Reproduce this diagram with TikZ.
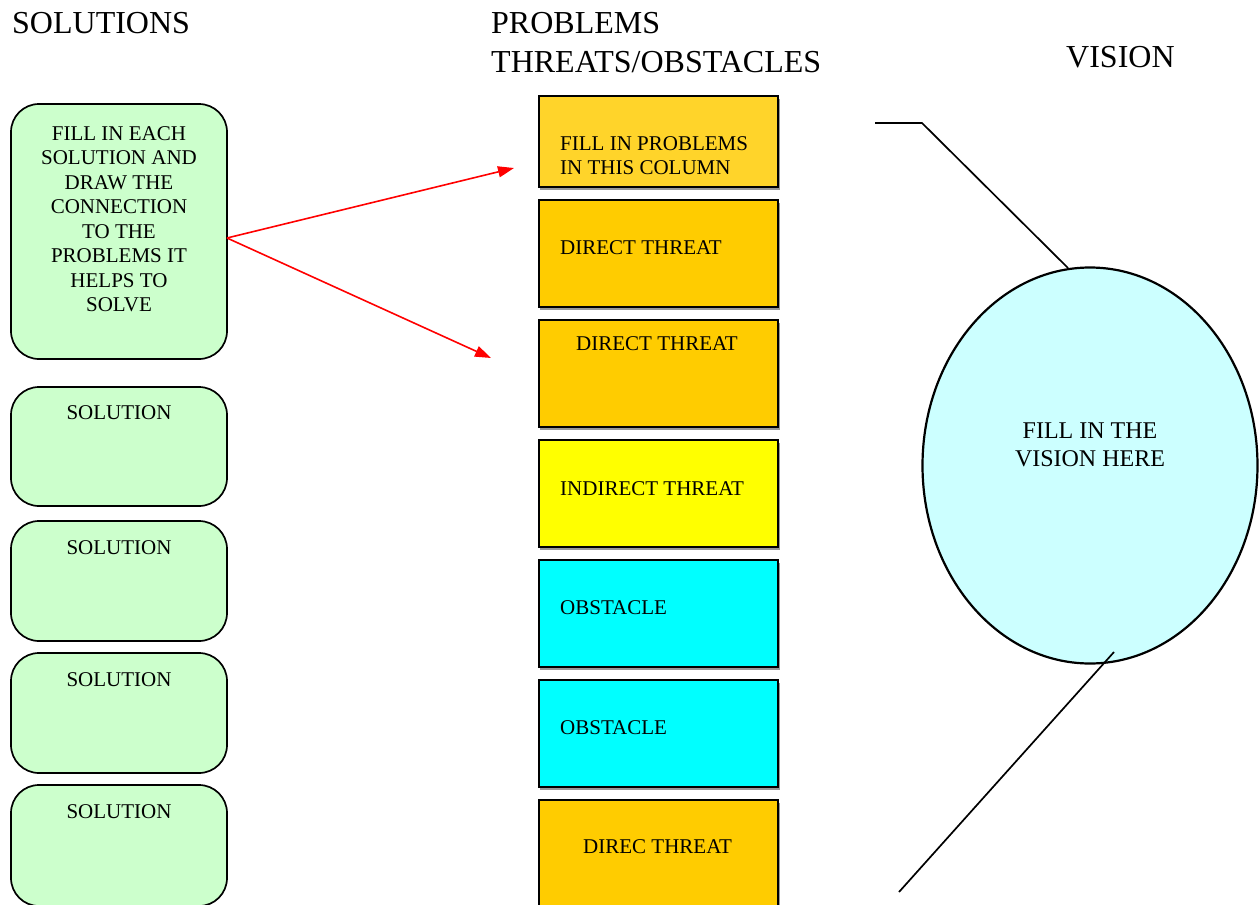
\documentclass[tikz,border=0pt]{standalone}
\usepackage{fontspec}
\setmainfont{Liberation Serif}
\usetikzlibrary{arrows.meta,shapes.geometric}
\definecolor{solgreen}{HTML}{CCFFCC}
\definecolor{gold}{HTML}{FFCC00}
\definecolor{goldlight}{HTML}{FFD42A}
\definecolor{yel}{HTML}{FFFF00}
\definecolor{cyn}{HTML}{00FFFF}
\definecolor{vis}{HTML}{CCFFFF}
\tikzset{
  title/.style={font=\fontsize{32}{38.5}\selectfont, inner sep=0pt, anchor=north west, align=left},
  body/.style={font=\fontsize{21}{24.5}\selectfont, inner sep=0pt},
  visbody/.style={font=\fontsize{24}{27.5}\selectfont, inner sep=0pt},
  solbox/.style={draw=black, line width=1.7pt, fill=solgreen, rounded corners=28pt},
  probbox/.style={draw=black, line width=1.9pt},
  redarrow/.style={draw=red, line width=1.6pt, -{Triangle[length=16pt,width=11pt]}},
  thinline/.style={draw=black, line width=1.7pt},
}
\begin{document}
\begin{tikzpicture}[x=1pt,y=-1pt]
\useasboundingbox (0,0) rectangle (1259,905);
% titles
\node[title] (tsol) at (12,12.5) {SOLUTIONS};
\node[title] (tprob) at (491,12.5) {PROBLEMS\\THREATS/OBSTACLES};
\node[title] (tvis) at (1066,46.5) {VISION};
% solution boxes
\draw[solbox] (11,104) rectangle (227,359);
\node[body, align=center] (s0) at (119,219) {FILL IN EACH\\SOLUTION AND\\DRAW THE\\CONNECTION\\TO THE\\PROBLEMS IT\\HELPS TO\\SOLVE};
\coordinate (s0e) at (227,238);
\draw[solbox] (11,387) rectangle (227,506);
\node[body] (s1) at (119,413) {SOLUTION};
\draw[solbox] (11,521) rectangle (227,641);
\node[body] (s2) at (119,548) {SOLUTION};
\draw[solbox] (11,653) rectangle (227,773);
\node[body] (s3) at (119,680) {SOLUTION};
\draw[solbox] (11,785) rectangle (227,906);
\node[body] (s4) at (119,812) {SOLUTION};
% problem boxes
\foreach \t/\b/\c in {96/187/goldlight,200/307/gold,320/427/gold,440/547/yel,560/667/cyn,680/787/cyn,800/910/gold}{
  \fill[black!40] (540,\t+2.5) rectangle (779.5,\b+2.5);
  \draw[probbox, fill=\c] (539,\t) rectangle (778,\b);
}
\node[body, anchor=west, align=left] (p1) at (560,155.5) {FILL IN PROBLEMS\\IN THIS COLUMN};
\node[body, anchor=west] (p2) at (560,248) {DIRECT THREAT};
\node[body, anchor=west] (p3) at (576,344) {DIRECT THREAT};
\node[body, anchor=west] (p4) at (560,489) {INDIRECT THREAT};
\node[body, anchor=west] (p5) at (560,608) {OBSTACLE};
\node[body, anchor=west] (p6) at (560,728) {OBSTACLE};
\node[body, anchor=west] (p7) at (583,847) {DIREC THREAT};
% arrows
\coordinate (a1) at (514,168);
\coordinate (a2) at (491,358);
\draw[redarrow] (s0e) -- (a1);
\draw[redarrow] (s0e) -- (a2);
% vision
\draw[thinline] (875,123) -- (922,123) -- (1068,268);
\node[ellipse, draw=black, line width=2.2pt, fill=vis, minimum width=335pt, minimum height=396pt, inner sep=0pt] (vision) at (1090,465.5) {};
\node[visbody, align=center] (vt) at (1090,445) {FILL IN THE\\VISION HERE};
\draw[thinline] (1114,652) -- (899,892);
\end{tikzpicture}
\end{document}
